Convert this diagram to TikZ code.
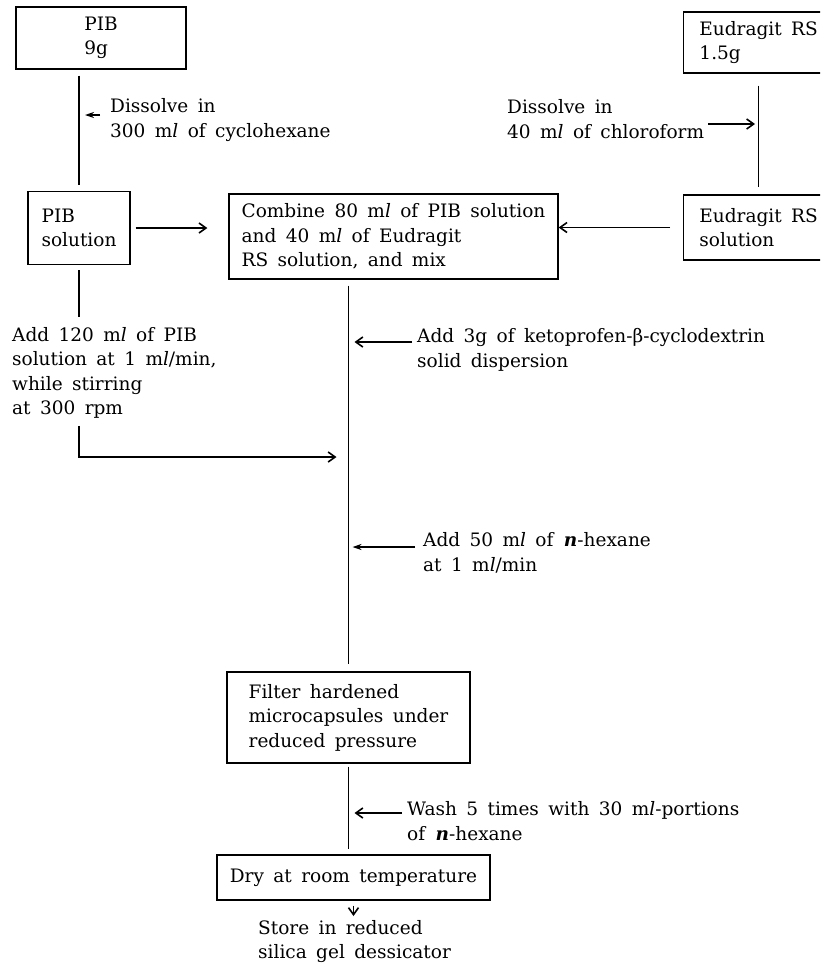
\documentclass[tikz,border=0pt]{standalone}
\usepackage{fontspec}
\setmainfont{DejaVu Serif}[WordSpace=1.6]
\usepackage{tikz}
\usetikzlibrary{arrows.meta,positioning,calc}
\newcommand{\mlu}{m\textit{l}}
\newcommand{\nhex}{\textbf{\textit{n}}}

\begin{document}
\begin{tikzpicture}[x=1pt, y=-1pt, font=\fontsize{18.5}{24.5}\selectfont]
    \tikzstyle{box} = [rectangle, draw, line width=1.3pt, align=left, inner sep=0pt]
    \tikzstyle{note} = [align=left, inner sep=0pt, anchor=west]
    \tikzstyle{line} = [line width=1.6pt]
    \tikzstyle{arrow} = [line, -{Straight Barb[length=7pt,width=10pt]}]
    \tikzstyle{fatarrow} = [line, -{Stealth[length=9pt,width=6pt]}]

    \useasboundingbox (0,0) rectangle (820,975);
    \clip (0,0) rectangle (820,975);

    % boxes
    \node[box, minimum width=170pt, minimum height=62pt] (pib) at (101,38) {PIB\\9g};
    \node[box, minimum width=102pt, minimum height=73pt] (pibsol) at (79,228) {PIB\\solution};
    \node[box, minimum width=329pt, minimum height=85pt] (comb) at (393.5,236.5)
        {Combine 80 \mlu{} of PIB solution\\and 40 \mlu{} of Eudragit\\RS solution, and mix};
    \node[box, minimum width=150pt, minimum height=61pt, anchor=west] (eud) at (683,42.5) {Eudragit RS\\1.5g};
    \node[box, minimum width=150pt, minimum height=65pt, anchor=west] (eudsol) at (683,227.5) {Eudragit RS\\solution};
    \node[box, minimum width=243pt, minimum height=91pt] (filter) at (348.5,717.5)
        {Filter hardened\\microcapsules under\\reduced pressure};
    \node[box, minimum width=273pt, minimum height=45pt] (dry) at (353.5,877.5) {Dry at room temperature};

    % side notes
    \node[note] (dis1) at (110,120) {Dissolve in\\300 \mlu{} of cyclohexane};
    \node[note] (dis2) at (507,119) {Dissolve in\\40 \mlu{} of chloroform};
    \node[note] (add120) at (12,373) {Add 120 \mlu{} of PIB\\solution at 1 \mlu{}/min,\\while stirring\\at 300 rpm};
    \node[note] (add3) at (417,350) {Add 3g of ketoprofen-β-cyclodextrin\\solid dispersion};
    \node[note] (add50) at (423,553) {Add 50 \mlu{} of \nhex-hexane\\at 1 \mlu{}/min};
    \node[note] (wash) at (407,821) {Wash 5 times with 30 \mlu{}-portions\\of \nhex-hexane};
    \node[note, anchor=north west] (store) at (258,920) {Store in reduced\\silica gel dessicator};

    % points on the flow lines
    \coordinate (p1) at (80,115);
    \coordinate (p2) at (758,124);
    \coordinate (mix) at (348.5,457);
    \coordinate (p4) at (348.5,342);
    \coordinate (p5) at (348.5,547);
    \coordinate (p6) at (348.5,813);

    \draw[line, shorten <=6pt, shorten >=6pt] (pib.south -| pibsol.north) -- (pibsol.north);
    \draw[fatarrow, shorten <=10pt, shorten >=5pt] (dis1.west |- p1) -- (p1);
    \draw[line, line width=1.1pt, shorten <=12pt, shorten >=7pt] (eud.south) -- (eudsol.north);
    \draw[arrow, shorten <=4pt, shorten >=3pt] (dis2.east |- p2) -- (p2);
    \draw[arrow, shorten <=5pt, shorten >=21pt] (pibsol.east) -- (pibsol.east -| comb.west);
    \draw[arrow, shorten <=13pt] (eudsol.west) -- (eudsol.west -| comb.east);
    \draw[line, shorten <=6pt, shorten >=7pt] (comb.south -| filter.north) -- (filter.north);
    \draw[line, shorten <=5pt, shorten >=10pt] (pibsol.south) -- (pibsol.south |- add120.north);
    \draw[arrow, shorten <=7pt, shorten >=12pt] (pibsol.south |- add120.south) |- (mix);
    \draw[arrow, shorten <=5pt, shorten >=6pt] (add3.west |- p4) -- (p4);
    \draw[fatarrow, shorten <=8pt, shorten >=4pt] (add50.west |- p5) -- (p5);
    \draw[line, shorten <=3pt, shorten >=5pt] (filter.south) -- (filter.south |- dry.north);
    \draw[arrow, shorten <=5pt, shorten >=6pt] (wash.west |- p6) -- (p6);
    \draw[arrow, shorten <=5pt, shorten >=4pt] (dry.south) -- (dry.south |- store.north);
\end{tikzpicture}
\end{document}
